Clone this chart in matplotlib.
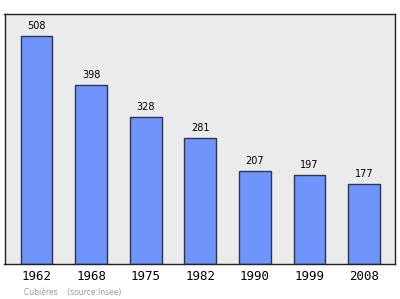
import numpy as np
from matplotlib import pyplot as plt

# population per census year
years = ['1962', '1968', '1975', '1982', '1990', '1999', '2008']
population = [508, 398, 328, 281, 207, 197, 177]

fig = plt.figure(figsize=(4.0, 2.99), dpi=100)
ax = fig.add_axes([4.5 / 400, 1 - 263.5 / 299, 390.5 / 400, 249.5 / 299])
ax.set_facecolor('#ebebeb')

x = np.arange(len(years))
ax.bar(x, population, width=0.58, color='#6f95fd', edgecolor='#2a3550', linewidth=1.0)

for xi, v in zip(x, population):
    ax.text(xi, v + 11, str(v), ha='center', va='bottom', fontsize=7, color='black')

ax.set_xlim(-0.586, 6.566)
ax.set_ylim(0, 557)
ax.set_yticks([])
ax.set_xticks(x)
ax.set_xticklabels(years, fontsize=9, family='DejaVu Sans Mono')
ax.tick_params(axis='x', length=0, pad=5)
for s in ax.spines.values():
    s.set_color('#222222')
    s.set_linewidth(1.0)

fig.text(24 / 400, 1 - 292 / 299, 'Cubières    (source:Insee)', fontsize=5.5, color='#999999',
         va='center', ha='left')

fig.savefig('out.png', dpi=100)
